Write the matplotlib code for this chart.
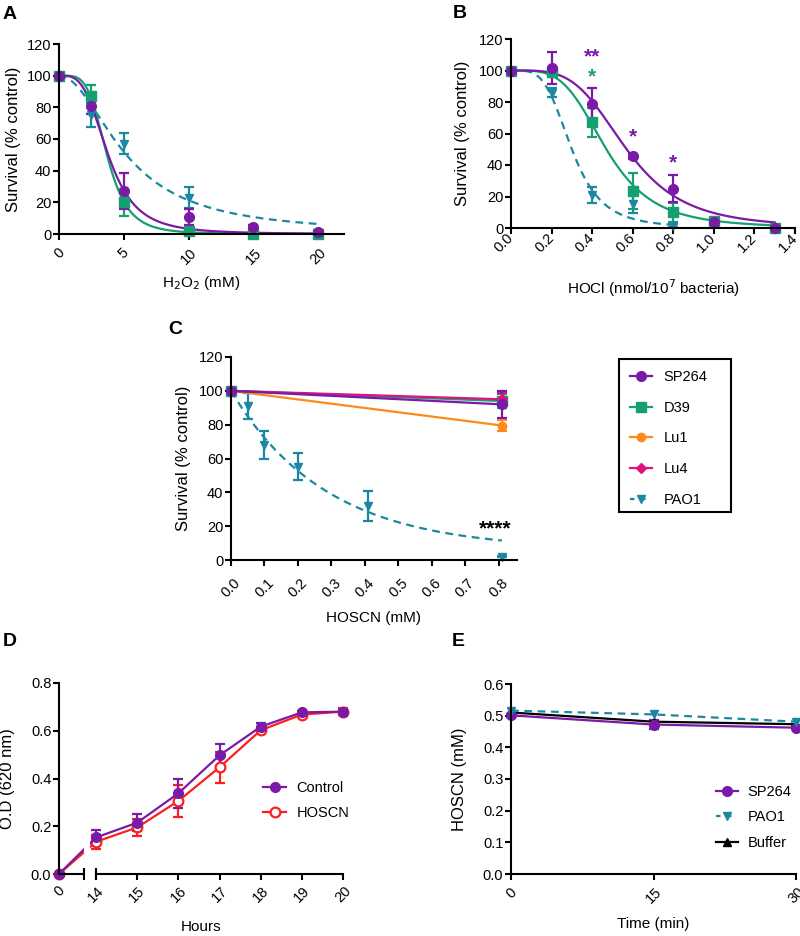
import numpy as np
import matplotlib
matplotlib.use("Agg")
import matplotlib.pyplot as plt
from matplotlib.lines import Line2D
from matplotlib.patches import Rectangle

plt.rcParams['font.family'] = ['Liberation Sans', 'DejaVu Sans']
plt.rcParams['font.size'] = 10.5
plt.rcParams['axes.linewidth'] = 1.5

PURPLE = '#7A1AA6'
GREEN = '#14A070'
ORANGE = '#FF8A1C'
PINK = '#DE137E'
TEAL = '#1B88A2'
RED = '#FF1E1E'

# ---------------- data ----------------
# A: H2O2
h2o2 = [0, 2.5, 5, 10, 15, 20]
a_sp264 = [100, 81, 27, 11, 4.5, 1.5]
a_sp264_err = [0, 5, 11.5, 5, 1.5, 0.5]
a_d39 = [100, 87, 20, 2, 0, 0]
a_d39_err = [0, 7, 8.5, 1, 0.5, 0.5]
a_pao1 = [100, 75, 57, 23, 2, 0]
a_pao1_err = [0, 7.5, 6.5, 6.5, 4, 0.5]
# fitted dose-response (EC50, Hill slope)
a_fit_sp264 = (3.8, 3.5)
a_fit_d39 = (3.7, 4.5)
a_fit_pao1 = (5.2, 2.0)

# B: HOCl
hocl = [0, 0.2, 0.4, 0.6, 0.8, 1.0, 1.3]
b_sp264 = [100, 101.5, 79, 45.5, 25, 4, 0]
b_sp264_err = [0, 10, 10, 1.5, 8.5, 1, 0.5]
b_d39 = [100, 99, 67, 23.5, 10, 4.5, 0]
b_d39_err = [0, 3, 9, 11.5, 6, 1, 0.5]
hocl_pao1 = [0, 0.2, 0.4, 0.6, 0.8]
b_pao1 = [100, 86, 21, 15.5, 1.5]
b_pao1_err = [0, 3, 5, 6, 1]
b_fit_sp264 = (0.57, 4.0)
b_fit_d39 = (0.47, 4.0)
b_fit_pao1 = (0.30, 4.0)

# C: HOSCN
hoscn = [0, 0.81]
c_sp264 = [100, 92]
c_sp264_err = [0, 8]
c_d39 = [100, 94]
c_d39_err = [0, 4]
c_lu1 = [100, 79.5]
c_lu1_err = [0, 3.5]
c_lu4 = [100, 95]
c_lu4_err = [0, 4]
hoscn_pao1 = [0, 0.05, 0.1, 0.2, 0.41, 0.81]
c_pao1 = [100, 91, 68, 55, 32, 2]
c_pao1_err = [0, 7.5, 8.5, 8, 9, 0.5]
# one-phase decay (plateau, rate)
c_fit_pao1 = (6, 3.5)

# D: growth
hours = [0, 14, 15, 16, 17, 18, 19, 20]
d_control = [0, 0.153, 0.215, 0.338, 0.497, 0.617, 0.677, 0.680]
d_control_err = [0, 0.032, 0.035, 0.06, 0.046, 0.016, 0.006, 0.012]
d_hoscn = [0, 0.135, 0.195, 0.306, 0.447, 0.602, 0.668, 0.680]
d_hoscn_err = [0, 0.03, 0.035, 0.066, 0.064, 0.01, 0.005, 0.014]

# E: HOSCN consumption
minutes = [0, 15, 30]
e_sp264 = [0.501, 0.472, 0.462]
e_sp264_err = [0.004, 0.013, 0.004]
e_pao1 = [0.516, 0.504, 0.481]
e_buffer = [0.510, 0.481, 0.473]

LABELS_C = ['SP264', 'D39', 'Lu1', 'Lu4', 'PAO1']

YLAB = 12
XLAB = 11


def hill(x, p):
    ec, h = p
    x = np.asarray(x, float)
    return 100.0 / (1.0 + (x / ec) ** h)


def decay(x, p):
    plateau, k = p
    return (100 - plateau) * np.exp(-k * np.asarray(x, float)) + plateau


def style(ax, xlim, ylim, xpad=None):
    for s in ('top', 'right'):
        ax.spines[s].set_visible(False)
    ax.set_xlim(*xlim)
    ax.set_ylim(*ylim)
    ax.tick_params(direction='out', length=4, width=1.5, pad=1.5, labelsize=10.5)
    if xpad is None:
        # label end anchored at the tick
        for lab in ax.get_xticklabels():
            lab.set_rotation(45)
            lab.set_ha('right')
            lab.set_va('center')
            lab.set_rotation_mode('anchor')
    else:
        # rotated label box centred under the tick
        ax.tick_params(axis='x', pad=xpad)
        for lab in ax.get_xticklabels():
            lab.set_rotation(45)
            lab.set_ha('center')
            lab.set_va('top')


def labels(ax, xl, yl, xc, yc):
    ax.set_xlabel(xl, fontsize=XLAB)
    ax.xaxis.set_label_coords(0.5, xc)
    ax.set_ylabel(yl, fontsize=YLAB)
    ax.yaxis.set_label_coords(yc, 0.5)


def eb(ax, x, y, err, color, marker, ms=7, ls='-', **kw):
    return ax.errorbar(x, y, yerr=err, color=color, marker=marker, ms=ms, ls=ls,
                       lw=1.6, elinewidth=1.6, capsize=3.5, capthick=1.6,
                       clip_on=False, **kw)


fig = plt.figure(figsize=(8, 9.36), dpi=100)
W, H = 800, 936


def axes_px(x0, y0, x1, y1):
    return fig.add_axes([x0 / W, 1 - y1 / H, (x1 - x0) / W, (y1 - y0) / H])


# ---------------- A ----------------
axA = axes_px(59, 44, 344, 234)
xs = np.linspace(0, 20, 300)
axA.plot(xs, hill(xs, a_fit_pao1), color=TEAL, lw=1.6, ls=(0, (3.5, 2.5)))
eb(axA, h2o2, a_pao1, a_pao1_err, TEAL, 'v', ms=6, ls='none')
axA.plot(xs, hill(xs, a_fit_d39), color=GREEN, lw=1.6)
eb(axA, h2o2, a_d39, a_d39_err, GREEN, 's', ms=6.5, ls='none')
axA.plot(xs, hill(xs, a_fit_sp264), color=PURPLE, lw=1.6)
eb(axA, h2o2, a_sp264, a_sp264_err, PURPLE, 'o', ls='none')
axA.set_xticks([0, 5, 10, 15, 20])
axA.set_yticks(range(0, 121, 20))
style(axA, (0, 22), (0, 120), xpad=4.5)
labels(axA, 'H$_2$O$_2$ (mM)', 'Survival (% control)', -0.21, -0.133)

# ---------------- B ----------------
axB = axes_px(511, 39, 795, 228)
xs = np.linspace(0, 0.8, 200)
axB.plot(xs, hill(xs, b_fit_pao1), color=TEAL, lw=1.6, ls=(0, (3.5, 2.5)))
eb(axB, hocl_pao1, b_pao1, b_pao1_err, TEAL, 'v', ms=6, ls='none')
xs = np.linspace(0, 1.3, 300)
axB.plot(xs, hill(xs, b_fit_d39), color=GREEN, lw=1.6)
eb(axB, hocl, b_d39, b_d39_err, GREEN, 's', ms=6.5, ls='none')
axB.plot(xs, hill(xs, b_fit_sp264), color=PURPLE, lw=1.6)
eb(axB, hocl, b_sp264, b_sp264_err, PURPLE, 'o', ls='none')
axB.set_xticks(np.arange(0, 1.41, 0.2))
axB.set_xticklabels([f'{v:.1f}' for v in np.arange(0, 1.41, 0.2)])
axB.set_yticks(range(0, 121, 20))
style(axB, (0, 1.4), (0, 120))
labels(axB, 'HOCl (nmol/10$^7$ bacteria)', 'Survival (% control)', -0.262, -0.144)
star = dict(ha='center', va='center', fontsize=15, fontweight='bold')
axB.text(0.4, 108.5, '**', color=PURPLE, **star)
axB.text(0.4, 96, '*', color=GREEN, **star)
axB.text(0.6, 58, '*', color=PURPLE, **star)
axB.text(0.8, 41.5, '*', color=PURPLE, **star)

# ---------------- C ----------------
axC = axes_px(231, 357, 517, 560)
xs = np.linspace(0, 0.81, 200)
axC.plot(xs, decay(xs, c_fit_pao1), color=TEAL, lw=1.6, ls=(0, (3.5, 2.5)))
eb(axC, hoscn_pao1, c_pao1, c_pao1_err, TEAL, 'v', ms=6, ls='none')
eb(axC, hoscn, c_lu1, c_lu1_err, ORANGE, 'o', ms=6)
eb(axC, hoscn, c_d39, c_d39_err, GREEN, 's', ms=6.5)
eb(axC, hoscn, c_lu4, c_lu4_err, PINK, 'D', ms=5)
eb(axC, hoscn, c_sp264, c_sp264_err, PURPLE, 'o')
axC.set_xticks(np.arange(0, 0.81, 0.1))
axC.set_xticklabels([f'{v:.1f}' for v in np.arange(0, 0.81, 0.1)])
axC.set_yticks(range(0, 121, 20))
style(axC, (0, 0.855), (0, 120), xpad=7.5)
labels(axC, 'HOSCN (mM)', 'Survival (% control)', -0.25, -0.14)
axC.text(0.79, 18.5, '****', ha='center', va='center', fontsize=15,
         fontweight='bold', color='black')

handles = [
    Line2D([], [], color=PURPLE, marker='o', ms=7, lw=1.6),
    Line2D([], [], color=GREEN, marker='s', ms=6.5, lw=1.6),
    Line2D([], [], color=ORANGE, marker='o', ms=6, lw=1.6),
    Line2D([], [], color=PINK, marker='D', ms=5, lw=1.6),
    Line2D([], [], color=TEAL, marker='v', ms=6, lw=1.6, ls=(0, (2, 3))),
]
fig.legend(handles, LABELS_C, loc='upper left',
           bbox_to_anchor=(619 / W, 1 - 359 / H), borderaxespad=0,
           frameon=False, handlelength=1.5, handletextpad=0.8,
           labelspacing=1.15, borderpad=0.75, fontsize=10.5)
fig.patches.append(Rectangle((619 / W, 1 - 512 / H), 112 / W, 153 / H,
                             transform=fig.transFigure, fill=False,
                             lw=1.5, edgecolor='black'))

# ---------------- D ----------------
GAP_U = 0.9
BREAK_H = 9.44


def fwd(h):
    h = np.asarray(h, float)
    return np.where(h < 14, h * GAP_U / 14, h - 14 + GAP_U)


def inv(u):
    u = np.asarray(u, float)
    return np.where(u < GAP_U, u * 14 / GAP_U, u + 14 - GAP_U)


axD = axes_px(59, 683, 343, 874)
axD.set_xscale('function', functions=(fwd, inv))
eb(axD, hours, d_hoscn, d_hoscn_err, RED, 'o', ms=7, mfc='white', mew=1.6)
eb(axD, hours, d_control, d_control_err, PURPLE, 'o', ms=7)
axD.set_xticks([0, 14, 15, 16, 17, 18, 19, 20])
axD.set_xticklabels(['0', '14', '15', '16', '17', '18', '19', '20'])
axD.set_yticks(np.arange(0, 0.81, 0.2))
axD.set_yticklabels([f'{v:.1f}' for v in np.arange(0, 0.81, 0.2)])
style(axD, (0, 20), (0, 0.8), xpad=3)
axD.spines['bottom'].set_visible(False)
xt = axD.get_xaxis_transform()
axD.axvspan(BREAK_H, 11.6, color='white', zorder=2.5, lw=0)
axD.plot([0, BREAK_H], [0, 0], color='black', lw=1.5, transform=xt, clip_on=False, zorder=4)
axD.plot([14, 20], [0, 0], color='black', lw=1.5, transform=xt, clip_on=False, zorder=4)
for bx in (BREAK_H, 14):
    axD.plot([bx, bx], [-0.027, 0.027], color='black', lw=1.5, transform=xt,
             clip_on=False, zorder=4)
labels(axD, 'Hours', 'O.D (620 nm)', -0.24, -0.155)
hD = [Line2D([], [], color=PURPLE, marker='o', ms=7, lw=1.6),
      Line2D([], [], color=RED, marker='o', ms=7, lw=1.6, mfc='white', mew=1.6)]
axD.legend(hD, ['Control', 'HOSCN'], loc='center left', frameon=False,
           bbox_to_anchor=(0.672, 0.383), handlelength=1.6, handletextpad=0.7,
           labelspacing=0.75, fontsize=10.5)

# ---------------- E ----------------
axE = axes_px(511, 684, 796, 874)
eb(axE, minutes, e_buffer, None, 'black', '^', ms=6)
eb(axE, minutes, e_sp264, e_sp264_err, PURPLE, 'o', ms=7)
eb(axE, minutes, e_pao1, None, TEAL, 'v', ms=6, ls=(0, (3.5, 2.5)))
axE.set_xticks([0, 15, 30])
axE.set_yticks(np.arange(0, 0.61, 0.1))
axE.set_yticklabels([f'{v:.1f}' for v in np.arange(0, 0.61, 0.1)])
style(axE, (0, 30), (0, 0.6), xpad=4)
labels(axE, 'Time (min)', 'HOSCN (mM)', -0.226, -0.154)
hE = [Line2D([], [], color=PURPLE, marker='o', ms=7, lw=1.6),
      Line2D([], [], color=TEAL, marker='v', ms=6, lw=1.6, ls=(0, (2, 3))),
      Line2D([], [], color='black', marker='^', ms=6, lw=1.6)]
axE.legend(hE, ['SP264', 'PAO1', 'Buffer'], loc='center left', frameon=False,
           bbox_to_anchor=(0.672, 0.298), handlelength=1.5, handletextpad=0.7,
           labelspacing=0.8, fontsize=10.5)

# panel letters
for lx, ly, t in [(3, 6, 'A'), (453, 5, 'B'), (168, 321, 'C'), (3, 633, 'D'), (452, 633, 'E')]:
    fig.text(lx / W, 1 - ly / H, t, fontsize=14, fontweight='bold', ha='left', va='top')

fig.savefig('out.png', dpi=100)
